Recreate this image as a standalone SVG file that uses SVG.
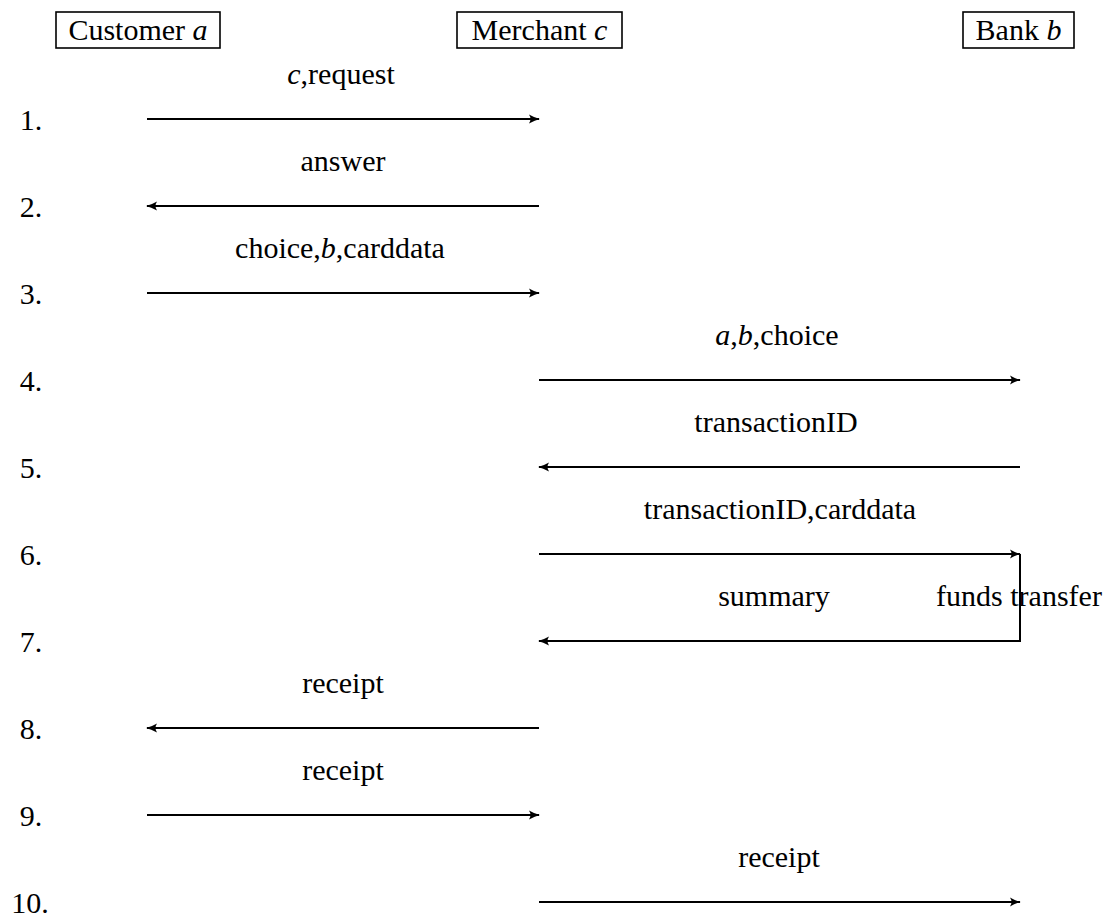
<svg xmlns="http://www.w3.org/2000/svg" width="1120" height="920" viewBox="0 0 1120 920">
<style>
text{font-family:"Liberation Serif","DejaVu Serif",serif;font-size:30px;fill:#000}
.lbl{text-anchor:middle}
.num{text-anchor:middle}
.i{font-style:italic}
.box{fill:#fff;stroke:#000;stroke-width:1.6}
.msg{stroke:#000;stroke-width:2;fill:none;marker-end:url(#ah)}
</style>
<defs>
<marker id="ah" markerWidth="14" markerHeight="12" refX="11" refY="6" orient="auto" markerUnits="userSpaceOnUse">
<path d="M1,1.5 Q7,5 12,6 Q7,7 1,10.5 Q4,6 1,1.5 Z" fill="#000"/>
</marker>
</defs>
<rect width="1120" height="920" fill="#fff"/>
<g id="customer"><rect class="box" x="56" y="12" width="164" height="36"/><text x="138" y="40" class="lbl">Customer <tspan class="i">a</tspan></text></g>
<g id="merchant"><rect class="box" x="457" y="12" width="165" height="36"/><text x="539.5" y="40" class="lbl">Merchant <tspan class="i">c</tspan></text></g>
<g id="bank"><rect class="box" x="963" y="12" width="111" height="36"/><text x="1018.5" y="40" class="lbl">Bank <tspan class="i">b</tspan></text></g>
<g id="numbers">
<text class="num" x="31" y="130">1.</text>
<text class="num" x="31" y="217">2.</text>
<text class="num" x="31" y="304">3.</text>
<text class="num" x="31" y="391">4.</text>
<text class="num" x="31" y="478">5.</text>
<text class="num" x="31" y="565">6.</text>
<text class="num" x="31" y="652">7.</text>
<text class="num" x="31" y="739">8.</text>
<text class="num" x="31" y="826">9.</text>
<text class="num" x="30" y="913">10.</text>
</g>
<g id="connectors">
<line class="msg" x1="147" y1="119" x2="539" y2="119"/>
<line class="msg" x1="539" y1="206" x2="147" y2="206"/>
<line class="msg" x1="147" y1="293" x2="539" y2="293"/>
<line class="msg" x1="539" y1="380" x2="1020" y2="380"/>
<line class="msg" x1="1020" y1="467" x2="539" y2="467"/>
<line class="msg" x1="539" y1="554" x2="1020" y2="554"/>
<polyline class="msg" points="1020,554 1020,641 539,641"/>
<line class="msg" x1="539" y1="728" x2="147" y2="728"/>
<line class="msg" x1="147" y1="815" x2="539" y2="815"/>
<line class="msg" x1="539" y1="902" x2="1020" y2="902"/>
</g>
<g id="labels">
<text class="lbl" x="341" y="84"><tspan class="i">c</tspan>,request</text>
<text class="lbl" x="343" y="171">answer</text>
<text class="lbl" x="340" y="258">choice,<tspan class="i">b</tspan>,carddata</text>
<text class="lbl" x="777" y="345"><tspan class="i">a</tspan>,<tspan class="i">b</tspan>,choice</text>
<text class="lbl" x="776" y="432">transactionID</text>
<text class="lbl" x="780" y="519">transactionID,carddata</text>
<text class="lbl" x="774" y="606">summary</text>
<text class="lbl" x="1019" y="606">funds transfer</text>
<text class="lbl" x="343" y="693">receipt</text>
<text class="lbl" x="343" y="780">receipt</text>
<text class="lbl" x="779" y="867">receipt</text>
</g>
</svg>
